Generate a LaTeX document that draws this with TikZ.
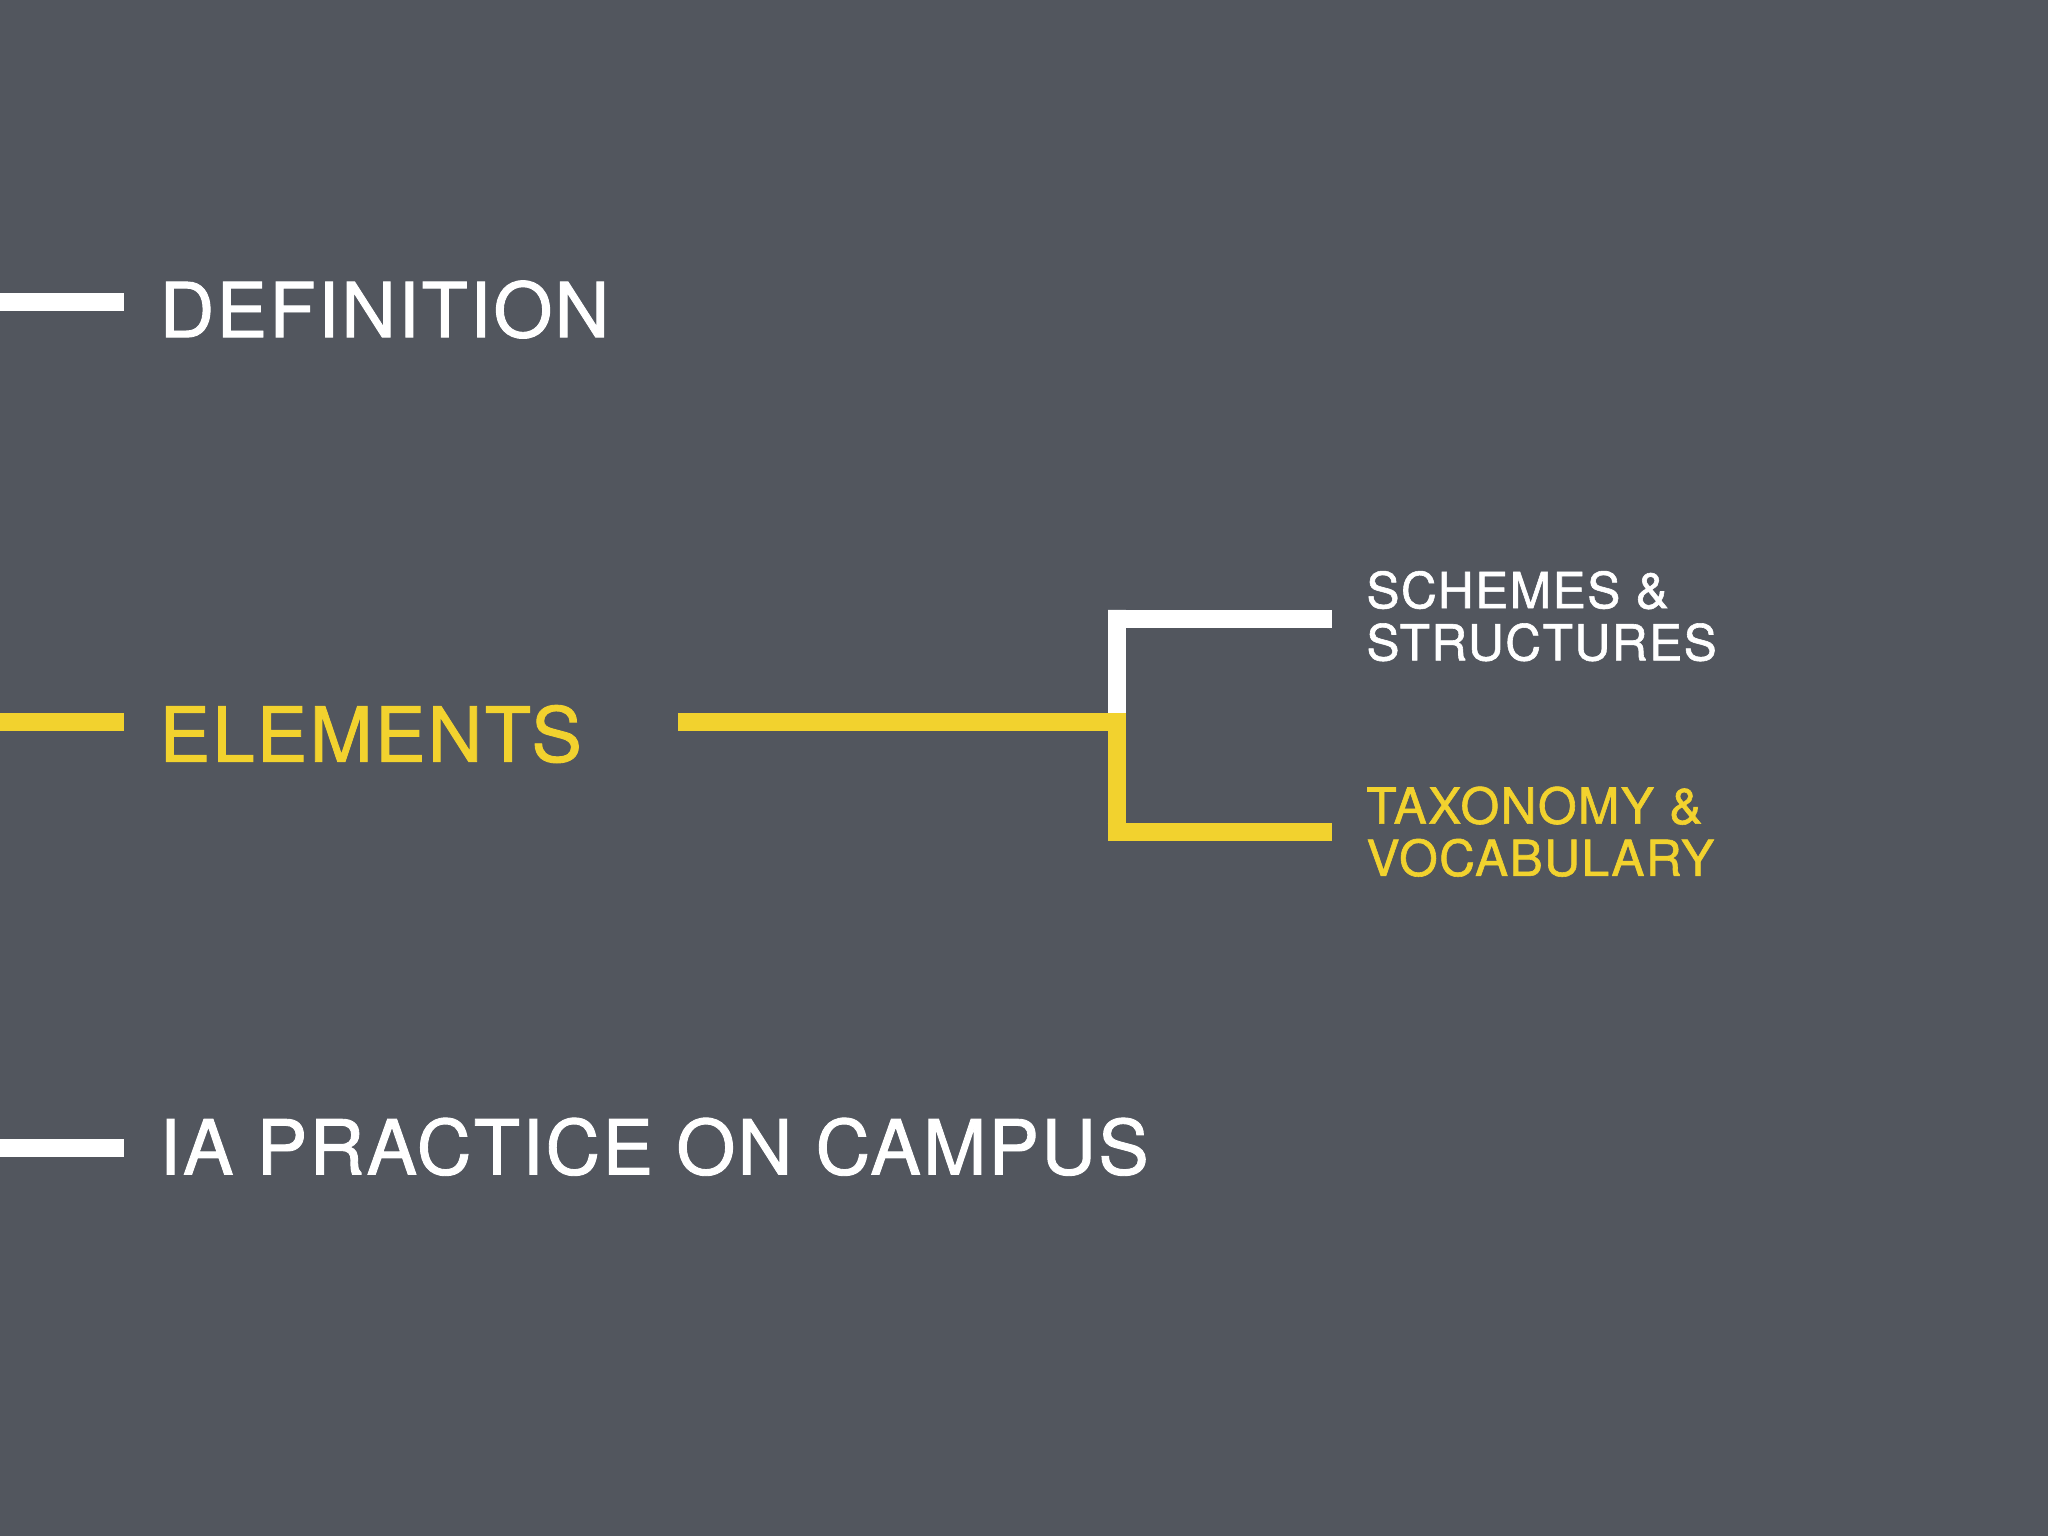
\documentclass[tikz,border=0pt]{standalone}
\usepackage{fontspec}
\setmainfont[LetterSpace=3,FakeBold=1.2]{TeX Gyre Heros}
\definecolor{bg}{HTML}{52565E}
\definecolor{yel}{HTML}{F2D22E}
\begin{document}
\begin{tikzpicture}[x=1pt,y=-1pt,
  big/.style={anchor=west,inner sep=0pt,font=\fontsize{58}{60}\selectfont},
  small/.style={anchor=north west,inner sep=0pt,align=left,font=\fontsize{38}{40}\selectfont},
  bar/.style={line width=14pt}]
\fill[bg] (0,0) rectangle (1568,1176);
\useasboundingbox (0,0) rectangle (1568,1176);
\coordinate (d0) at (0,231); \coordinate (d1) at (95,231);
\coordinate (e0) at (0,553); \coordinate (e1) at (95,553);
\coordinate (i0) at (0,879); \coordinate (i1) at (95,879);
\node[big,white] (def) at (122,237) {DEFINITION};
\node[big,yel] (ele) at (122,562) {ELEMENTS};
\node[big,white] (iap) at (122,878) {IA PRACTICE ON CAMPUS};
\node[small,white] (sch) at (1046,437) {SCHEMES \&\\STRUCTURES};
\node[small,yel] (tax) at (1046,602) {TAXONOMY \&\\VOCABULARY};
\draw[bar,white] (d0) -- (d1);
\draw[bar,yel] (e0) -- (e1);
\draw[bar,white] (i0) -- (i1);
\coordinate (es) at (519,553); \coordinate (ej) at (862,553);
\coordinate (wt) at (855,474); \coordinate (we) at (1020,474);
\coordinate (yb) at (855,637); \coordinate (ye) at (1020,637);
\draw[bar,white] (855,553) -- (855,467) -- (wt) -- (we);
\draw[bar,yel] (es) -- (ej);
\draw[bar,yel] (855,553) -- (855,644);
\draw[bar,yel] (848,637) -- (ye);
\end{tikzpicture}
\end{document}
